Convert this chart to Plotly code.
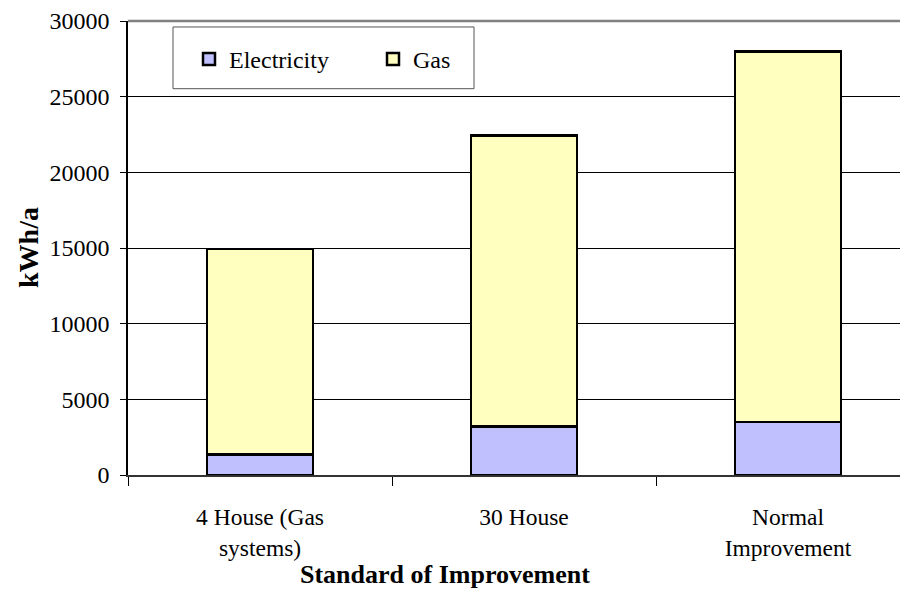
import plotly.graph_objects as go

categories = ["4 House (Gas<br>systems)", "30 House", "Normal<br>Improvement"]
electricity = [1350, 3200, 3500]
gas = [13590, 19250, 24500]
y_ticks = [0, 5000, 10000, 15000, 20000, 25000, 30000]

FONT = "Liberation Serif, Times New Roman, serif"

# page is rendered with an 8px body margin; figure sized to fill the rest
W, H = 900, 584
L, T, B = 120, 11, 117
PW = 780.0          # visible plot width (page x 128..908)
PH = H - T - B      # 456


def px(page_x):
    return (page_x - 128) / PW


def py(page_y):
    return (475 - page_y) / PH


fig = go.Figure()
fig.add_trace(go.Bar(name="Electricity", x=categories, y=electricity, legendwidth=139,
                     marker=dict(color="#C0C0FF", line=dict(color="black", width=2.5))))
fig.add_trace(go.Bar(name="Gas", x=categories, y=gas,
                     marker=dict(color="#FFFFC0", line=dict(color="black", width=2.5))))

fig.update_layout(
    barmode="stack", bargap=0.6,
    width=W, height=H,
    margin=dict(l=L, r=0, t=T, b=B, pad=0),
    paper_bgcolor="white", plot_bgcolor="white",
    font=dict(family=FONT, size=24, color="black"),
    showlegend=True,
    legend=dict(orientation="h", x=px(189), y=py(57.5), xanchor="left", yanchor="middle",
                bgcolor="rgba(0,0,0,0)", borderwidth=0,
                font=dict(family=FONT, size=24), traceorder="normal"),
)
fig.update_xaxes(type="category", range=[-0.5, 2.4545], tickson="boundaries",
                 ticks="outside", ticklen=9, tickcolor="black", tickwidth=1,
                 ticklabelstandoff=20,
                 showline=True, linecolor="#333333", linewidth=2,
                 showgrid=False, tickfont=dict(family=FONT, size=23.5))
fig.update_yaxes(range=[0, 30000], tickvals=y_ticks, ticktext=[str(v) for v in y_ticks],
                 ticks="outside", ticklen=6, tickcolor="black", tickwidth=1,
                 ticklabelstandoff=6, ticklabeloverflow="allow",
                 showline=True, linecolor="black", linewidth=1.5,
                 showgrid=True, gridcolor="black", gridwidth=1,
                 tickfont=dict(family=FONT, size=24))
# top border of plot area
fig.add_shape(type="line", xref="paper", yref="paper", x0=0, x1=1, y0=1, y1=1,
              line=dict(color="#808080", width=2.5))
# legend frame
fig.add_shape(type="rect", xref="paper", yref="paper", x0=px(173), x1=px(474),
              y0=py(87), y1=py(25), line=dict(color="#555555", width=1),
              fillcolor="white", layer="below")
fig.add_annotation(text="<b>kWh/a</b>", xref="paper", yref="paper",
                   x=px(28), y=0.5, xanchor="center", yanchor="middle", textangle=-90,
                   showarrow=False, font=dict(family=FONT, size=28))
fig.add_annotation(text="<b>Standard of Improvement</b>", xref="paper", yref="paper",
                   x=px(445), y=py(575), xanchor="center", yanchor="middle",
                   showarrow=False, font=dict(family=FONT, size=26))

fig.write_html("out.html")
